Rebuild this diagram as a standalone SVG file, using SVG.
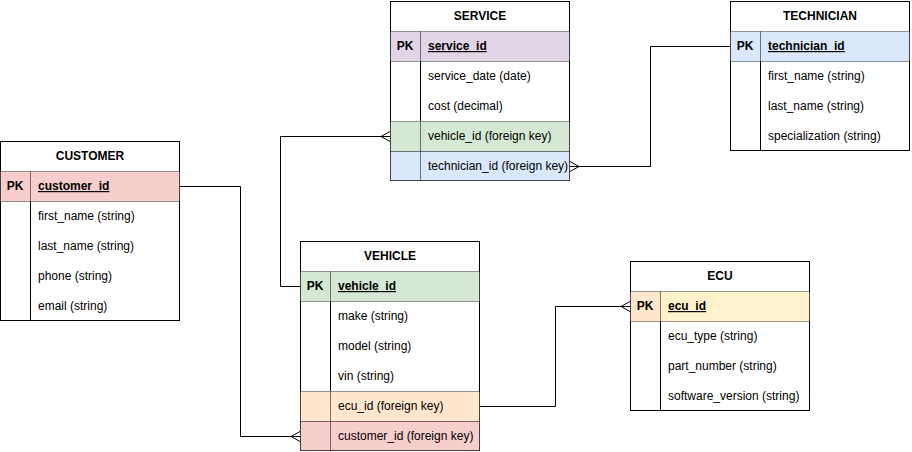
<svg xmlns="http://www.w3.org/2000/svg" width="912" height="452" viewBox="0 0 912 452">
<style>
text{font-family:"Liberation Sans",Arial,Helvetica,sans-serif;font-size:12px;fill:#000}
.t{font-weight:bold;text-anchor:middle}
.pk{font-weight:bold;text-anchor:middle}
.k{font-weight:bold;text-decoration:underline}
.box{fill:#fff;stroke:#000;stroke-width:1}
.ln{stroke:#000;stroke-width:1;fill:none}
.c{stroke:#000;stroke-opacity:0.4;stroke-width:1}
.conn path{fill:none;stroke:#000;stroke-width:1}
</style>
<rect width="912" height="452" fill="#fff"/>

<g id="service">
<rect class="box" x="390.5" y="1.5" width="179" height="179"/>
<line class="ln" x1="420.5" y1="61" x2="420.5" y2="121"/>
<rect class="c" x="390.5" y="31.5" width="30" height="30" fill="#e1d5e7"/>
<rect class="c" x="420.5" y="31.5" width="149" height="30" fill="#e1d5e7"/>
<rect class="c" x="390.5" y="121.5" width="30" height="30" fill="#d5e8d4"/>
<rect class="c" x="420.5" y="121.5" width="149" height="30" fill="#d5e8d4"/>
<rect class="c" x="390.5" y="151.5" width="30" height="29" fill="#dae8fc"/>
<rect class="c" x="420.5" y="151.5" width="149" height="29" fill="#dae8fc"/>
<text class="t" x="480" y="20">SERVICE</text>
<text class="pk" x="405" y="50">PK</text>
<text class="k" x="428" y="50">service_id</text>
<text x="428" y="80">service_date (date)</text>
<text x="428" y="110">cost (decimal)</text>
<text x="428" y="140">vehicle_id (foreign key)</text>
<text x="428" y="170">technician_id (foreign key)</text>
</g>

<g id="technician">
<rect class="box" x="730.5" y="1.5" width="179" height="149"/>
<line class="ln" x1="760.5" y1="61" x2="760.5" y2="151"/>
<rect class="c" x="730.5" y="31.5" width="30" height="30" fill="#dae8fc"/>
<rect class="c" x="760.5" y="31.5" width="149" height="30" fill="#dae8fc"/>
<text class="t" x="820" y="20">TECHNICIAN</text>
<text class="pk" x="745" y="50">PK</text>
<text class="k" x="768" y="50">technician_id</text>
<text x="768" y="80">first_name (string)</text>
<text x="768" y="110">last_name (string)</text>
<text x="768" y="140">specialization (string)</text>
</g>

<g id="customer">
<rect class="box" x="0.5" y="141.5" width="179" height="179"/>
<line class="ln" x1="30.5" y1="201" x2="30.5" y2="321"/>
<rect class="c" x="0.5" y="171.5" width="30" height="30" fill="#f8cecc"/>
<rect class="c" x="30.5" y="171.5" width="149" height="30" fill="#f8cecc"/>
<text class="t" x="90" y="160">CUSTOMER</text>
<text class="pk" x="15" y="190">PK</text>
<text class="k" x="38" y="190">customer_id</text>
<text x="38" y="220">first_name (string)</text>
<text x="38" y="250">last_name (string)</text>
<text x="38" y="280">phone (string)</text>
<text x="38" y="310">email (string)</text>
</g>

<g id="vehicle">
<rect class="box" x="300.5" y="241.5" width="179" height="209"/>
<line class="ln" x1="330.5" y1="301" x2="330.5" y2="391"/>
<rect class="c" x="300.5" y="271.5" width="30" height="30" fill="#d5e8d4"/>
<rect class="c" x="330.5" y="271.5" width="149" height="30" fill="#d5e8d4"/>
<rect class="c" x="300.5" y="391.5" width="30" height="30" fill="#ffe6cc"/>
<rect class="c" x="330.5" y="391.5" width="149" height="30" fill="#ffe6cc"/>
<rect class="c" x="300.5" y="421.5" width="30" height="29" fill="#f8cecc"/>
<rect class="c" x="330.5" y="421.5" width="149" height="29" fill="#f8cecc"/>
<text class="t" x="390" y="260">VEHICLE</text>
<text class="pk" x="315" y="290">PK</text>
<text class="k" x="338" y="290">vehicle_id</text>
<text x="338" y="320">make (string)</text>
<text x="338" y="350">model (string)</text>
<text x="338" y="380">vin (string)</text>
<text x="338" y="410">ecu_id (foreign key)</text>
<text x="338" y="440">customer_id (foreign key)</text>
</g>

<g id="ecu">
<rect class="box" x="630.5" y="261.5" width="179" height="149"/>
<line class="ln" x1="660.5" y1="321" x2="660.5" y2="411"/>
<rect class="c" x="630.5" y="291.5" width="30" height="30" fill="#ffe6cc"/>
<rect class="c" x="660.5" y="291.5" width="149" height="30" fill="#fff2cc"/>
<text class="t" x="720" y="280">ECU</text>
<text class="pk" x="645" y="310">PK</text>
<text class="k" x="668" y="310">ecu_id</text>
<text x="668" y="340">ecu_type (string)</text>
<text x="668" y="370">part_number (string)</text>
<text x="668" y="400">software_version (string)</text>
</g>

<g id="connectors" class="conn">
<path d="M390,136.5 H280.5 V286.5 H300"/>
<path d="M390,131.5 L381,136.5 L390,141.5"/>
<path d="M570,166.5 H650.5 V46.5 H730"/>
<path d="M570,161.5 L579,166.5 L570,171.5"/>
<path d="M180,186.5 H240.5 V436.5 H300"/>
<path d="M300,431.5 L291,436.5 L300,441.5"/>
<path d="M480,406.5 H555.5 V306.5 H630"/>
<path d="M630,301.5 L621,306.5 L630,311.5"/>
</g>
</svg>
